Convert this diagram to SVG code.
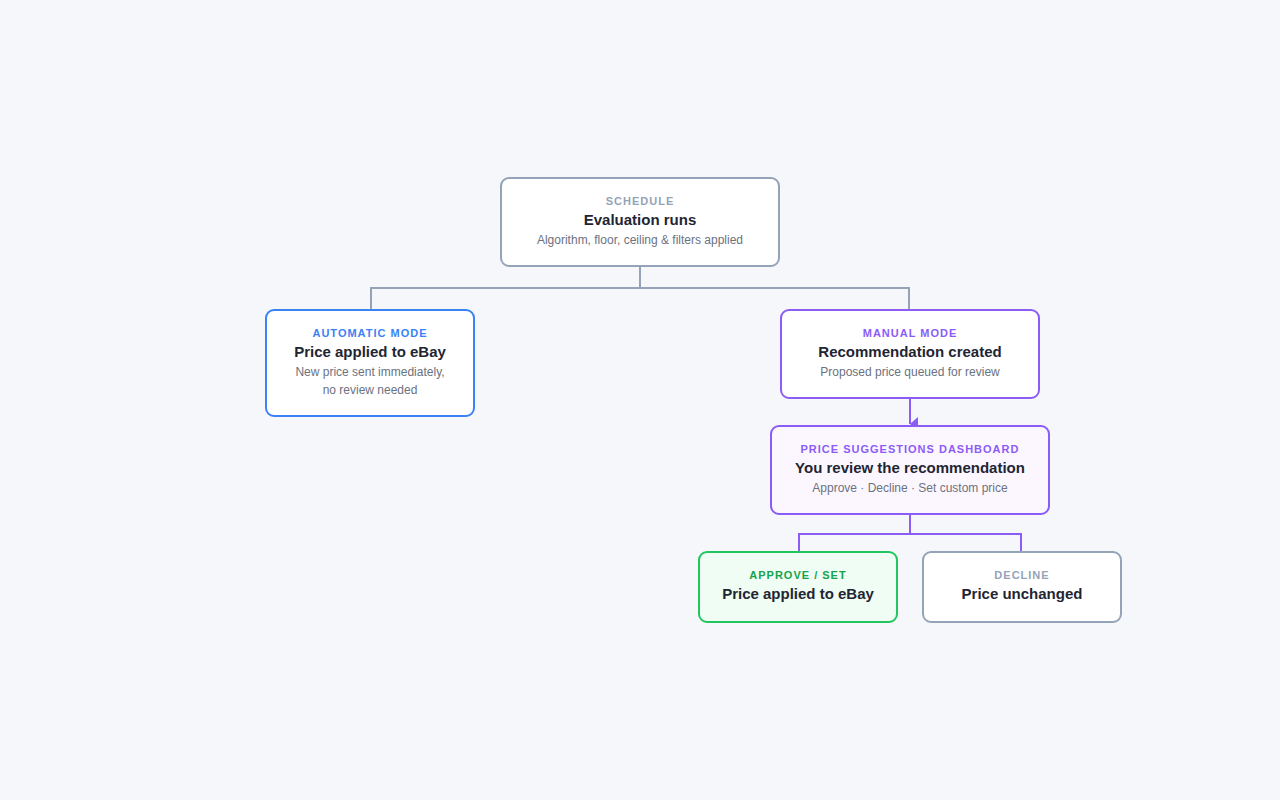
<svg xmlns="http://www.w3.org/2000/svg" width="1280" height="800" viewBox="0 0 1280 800">
<style>
text{font-family:"Liberation Sans",Arial,sans-serif;text-anchor:middle}
.k{font-size:11px;font-weight:bold;letter-spacing:1px}
.t{font-size:15px;font-weight:bold;fill:#1f2533}
.s{font-size:12px;fill:#6b7280}
.c{fill:none;stroke-width:2}
</style>
<defs><marker id="a" markerWidth="14" markerHeight="8" refX="7" refY="8" orient="auto" markerUnits="userSpaceOnUse" viewBox="0 0 14 8"><path d="M0 0L14 0L7 8Z" fill="#8b5cf6"/></marker></defs>
<rect width="1280" height="800" fill="#f5f7fb"/>
<g id="connectors">
<path class="c" stroke="#94a3b8" d="M640 266V288H371V310M640 288H909V310"/>
<path class="c" stroke="#8b5cf6" d="M910 398V424" marker-end="url(#a)"/>
<path class="c" stroke="#8b5cf6" d="M910 514V534H799V552M910 534H1021V552"/>
</g>
<g id="n1"><rect x="501" y="178" width="278" height="88" rx="8" fill="#fff" stroke="#94a3b8" stroke-width="2"/>
<text x="640" y="205" class="k" fill="#94a3b8">SCHEDULE</text><text x="640" y="225" class="t">Evaluation runs</text><text x="640" y="244" class="s">Algorithm, floor, ceiling &amp; filters applied</text></g>
<g id="n2"><rect x="266" y="310" width="208" height="106" rx="8" fill="#fff" stroke="#3b82f6" stroke-width="2"/>
<text x="370" y="337" class="k" fill="#3b82f6">AUTOMATIC MODE</text><text x="370" y="357" class="t">Price applied to eBay</text><text x="370" y="376" class="s">New price sent immediately,</text><text x="370" y="394" class="s">no review needed</text></g>
<g id="n3"><rect x="781" y="310" width="258" height="88" rx="8" fill="#fff" stroke="#8b5cf6" stroke-width="2"/>
<text x="910" y="337" class="k" fill="#8b5cf6">MANUAL MODE</text><text x="910" y="357" class="t">Recommendation created</text><text x="910" y="376" class="s">Proposed price queued for review</text></g>
<g id="n4"><rect x="771" y="426" width="278" height="88" rx="8" fill="#fcf7ff" stroke="#8b5cf6" stroke-width="2"/>
<text x="910" y="453" class="k" fill="#8b5cf6">PRICE SUGGESTIONS DASHBOARD</text><text x="910" y="473" class="t">You review the recommendation</text><text x="910" y="492" class="s">Approve  ·  Decline  ·  Set custom price</text></g>
<g id="n5"><rect x="699" y="552" width="198" height="70" rx="8" fill="#f0fdf4" stroke="#22c55e" stroke-width="2"/>
<text x="798" y="579" class="k" fill="#16a34a">APPROVE / SET</text><text x="798" y="599" class="t">Price applied to eBay</text></g>
<g id="n6"><rect x="923" y="552" width="198" height="70" rx="8" fill="#fff" stroke="#94a3b8" stroke-width="2"/>
<text x="1022" y="579" class="k" fill="#94a3b8">DECLINE</text><text x="1022" y="599" class="t">Price unchanged</text></g>
</svg>
